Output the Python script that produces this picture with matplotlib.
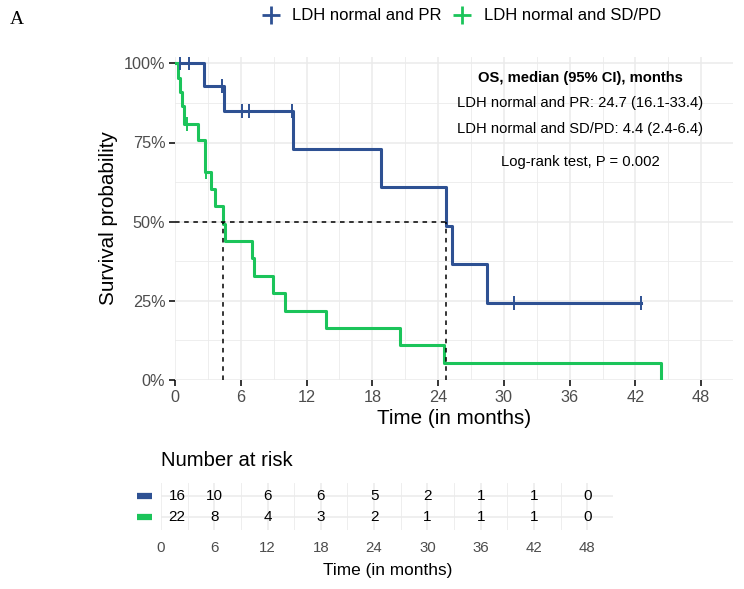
import matplotlib
matplotlib.use('Agg')
import matplotlib.pyplot as plt
from matplotlib.lines import Line2D
from matplotlib.ticker import MultipleLocator, FuncFormatter

plt.rcParams['font.family'] = ['Liberation Sans', 'DejaVu Sans']

# ---------------- data ----------------
groups = ['LDH normal and PR', 'LDH normal and SD/PD']
colors = ['#2E5193', '#1BC45A']

pr_time = [0, 2.68, 4.47, 10.8, 18.8, 24.75, 25.25, 28.5, 42.5]
pr_surv = [1.0, 0.929, 0.851, 0.730, 0.608, 0.487, 0.365, 0.243, 0.243]
pr_cens_time = [0.46, 1.3, 4.3, 6.08, 6.78, 10.65, 30.9, 42.5]
pr_cens_surv = [1.0, 1.0, 0.929, 0.851, 0.851, 0.851, 0.243, 0.243]

sd_time = [0, 0.25, 0.45, 0.6, 0.8, 2.1, 2.7, 3.3, 3.65, 4.4, 4.6, 7.0, 7.2,
           8.9, 10.0, 13.75, 20.5, 24.55, 44.3]
sd_surv = [1.0, 0.955, 0.909, 0.864, 0.810, 0.757, 0.658, 0.603, 0.548, 0.493,
           0.438, 0.384, 0.329, 0.274, 0.219, 0.164, 0.110, 0.055, 0.0]
sd_cens_time = [1.07, 2.83]
sd_cens_surv = [0.810, 0.658]

medians = [24.7, 4.4]

risk_times = [0, 6, 12, 18, 24, 30, 36, 42, 48]
risk_pr = [16, 10, 6, 6, 5, 2, 1, 1, 0]
risk_sd = [22, 8, 4, 3, 2, 1, 1, 1, 0]

annot_title = 'OS, median (95% CI), months'
annot_lines = ['LDH normal and PR: 24.7 (16.1-33.4)',
               'LDH normal and SD/PD: 4.4 (2.4-6.4)']
annot_p = 'Log-rank test, P = 0.002'

# ---------------- figure ----------------
W, H = 744, 589
fig = plt.figure(figsize=(W / 100, H / 100), dpi=100)

def fx(px):
    return px / W

def fy(py):
    return 1 - py / H

XMAX = 50.9
grid_c = '#EBEBEB'
tick_c = '#4D4D4D'

ax = fig.add_axes([fx(175), fy(380), fx(733) - fx(175), fy(57) - fy(380)])
ax.set_xlim(0, XMAX)
ax.set_ylim(0, 1.02)
for s in ax.spines.values():
    s.set_visible(False)
ax.xaxis.set_major_locator(MultipleLocator(6))
ax.xaxis.set_minor_locator(MultipleLocator(3))
ax.yaxis.set_major_locator(MultipleLocator(0.25))
ax.yaxis.set_minor_locator(MultipleLocator(0.125))
ax.yaxis.set_major_formatter(FuncFormatter(lambda v, p: f'{int(round(v*100))}%'))
ax.set_xticks([0, 6, 12, 18, 24, 30, 36, 42, 48])
ax.grid(which='major', color=grid_c, lw=1.1)
ax.grid(which='minor', color=grid_c, lw=0.6)
ax.set_axisbelow(True)
ax.tick_params(which='major', length=4, width=1.1, color='black',
               labelsize=11.7, labelcolor=tick_c, pad=3)
ax.tick_params(which='minor', length=0)

ax.step(pr_time, pr_surv, where='post', color=colors[0], lw=2.2)
ax.step(sd_time, sd_surv, where='post', color=colors[1], lw=2.2)
ax.plot(pr_cens_time, pr_cens_surv, ls='none', marker='|', ms=10, mew=1.4,
        color=colors[0])
ax.plot(sd_cens_time, sd_cens_surv, ls='none', marker='|', ms=10, mew=1.4,
        color=colors[1])

# median lines
ax.plot([0, max(medians)], [0.5, 0.5], ls=(0, (3, 3)), color='black', lw=1.1)
for m in medians:
    ax.plot([m, m], [0, 0.5], ls=(0, (3, 3)), color='black', lw=1.1)

# annotation
fig.text(fx(580), fy(78), annot_title, ha='center', va='center',
         fontsize=10.6, fontweight='bold')
fig.text(fx(580), fy(103), annot_lines[0], ha='center', va='center', fontsize=10.6)
fig.text(fx(580), fy(129), annot_lines[1], ha='center', va='center', fontsize=10.6)
fig.text(fx(580), fy(162), annot_p, ha='center', va='center', fontsize=10.6)

# axis labels
fig.text(fx(454), fy(419), 'Time (in months)', ha='center', va='center', fontsize=14.9)
fig.text(fx(108), fy(218), 'Survival probability', ha='center', va='center',
         fontsize=14.9, rotation=90)

# legend
for (px, tx), g, c in zip([(271, 292), (462, 484)], groups, colors):
    fig.add_artist(Line2D([fx(px)], [fy(15)], marker='+', ms=13, mew=2,
                          color=c, transform=fig.transFigure))
    fig.text(fx(tx), fy(15), g, ha='left', va='center', fontsize=12)

fig.text(fx(10), fy(19), 'A', ha='left', va='center', fontsize=14,
         family=['Liberation Serif', 'DejaVu Serif'])

# ---------------- risk table ----------------
ax2 = fig.add_axes([fx(161), fy(530), fx(613) - fx(161), fy(483) - fy(530)])
ax2.set_xlim(0, XMAX)
ax2.set_ylim(0.4, 2.6)
for s in ax2.spines.values():
    s.set_visible(False)
ax2.set_xticks(risk_times)
ax2.xaxis.set_minor_locator(MultipleLocator(3))
ax2.set_yticks([1, 2])
ax2.set_yticklabels([])
ax2.grid(which='major', color=grid_c, lw=1.1)
ax2.grid(which='minor', axis='x', color=grid_c, lw=0.6)
ax2.set_axisbelow(True)
ax2.tick_params(which='both', length=0)
ax2.tick_params(axis='x', labelsize=10.8, labelcolor=tick_c, pad=8)

for row, vals, c in [(2, risk_pr, colors[0]), (1, risk_sd, colors[1])]:
    for i, (t, v) in enumerate(zip(risk_times, vals)):
        xpos = t + 1.8 if i == 0 else t
        ax2.text(xpos, row, str(v), ha='center', va='center', fontsize=11)
    ax2.plot([-0.052, -0.02], [row, row], color=c, lw=4.5, solid_capstyle='butt',
             transform=ax2.get_yaxis_transform(), clip_on=False)

fig.text(fx(161), fy(460), 'Number at risk', ha='left', va='center', fontsize=14.6)
fig.text(fx(388), fy(570), 'Time (in months)', ha='center', va='center', fontsize=12.4)

fig.savefig('out.png', dpi=100)
